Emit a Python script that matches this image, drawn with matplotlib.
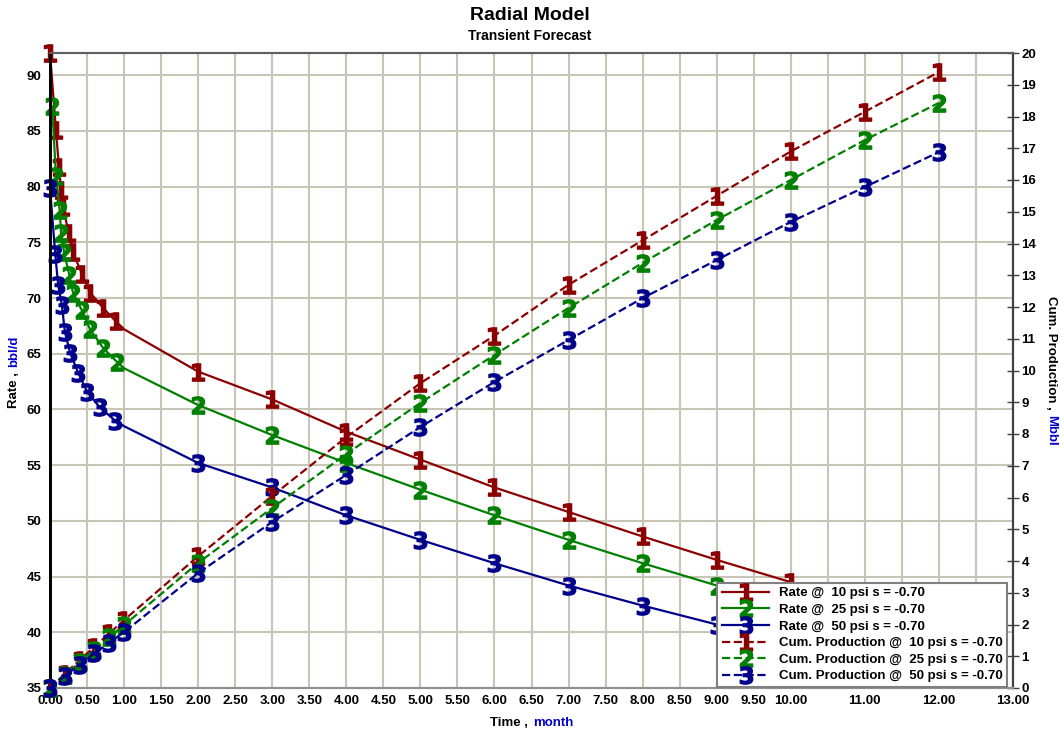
import matplotlib
matplotlib.use('Agg')
import matplotlib.pyplot as plt
import numpy as np

plt.rcParams['font.family'] = ['Liberation Sans', 'DejaVu Sans']
plt.rcParams['font.weight'] = 'bold'

# rate curves (bbl/d) vs time (month)
t_rate_10 = [0.0, 0.08, 0.12, 0.15, 0.18, 0.25, 0.31, 0.43, 0.54, 0.72, 0.89, 1.0,
             2, 3, 4, 5, 6, 7, 8, 9, 10, 11, 12]
rate_10 = [92.0, 85.1, 81.8, 79.7, 78.2, 75.8, 74.1, 72.2, 70.5, 69.1, 67.9, 67.2,
           63.4, 60.9, 58.0, 55.5, 53.0, 50.8, 48.6, 46.5, 44.5, 42.6, 40.8]
t_rate_25 = [0.03, 0.08, 0.13, 0.15, 0.19, 0.26, 0.31, 0.43, 0.54, 0.72, 0.90, 1.0,
             2, 3, 4, 5, 6, 7, 8, 9, 10, 11, 12]
rate_25 = [87.2, 81.0, 77.9, 75.8, 74.1, 72.1, 70.5, 68.9, 67.2, 65.5, 64.3, 63.7,
           60.4, 57.7, 55.2, 52.8, 50.5, 48.3, 46.2, 44.2, 42.3, 40.5, 38.8]
t_rate_50 = [0.0, 0.07, 0.11, 0.16, 0.20, 0.27, 0.38, 0.50, 0.67, 0.88, 1.0,
             2, 3, 4, 5, 6, 7, 8, 9, 10, 11, 12]
rate_50 = [79.9, 74.0, 71.2, 69.4, 67.0, 65.1, 63.3, 61.6, 60.2, 59.0, 58.5,
           55.2, 53.0, 50.5, 48.3, 46.2, 44.2, 42.4, 40.7, 39.1, 37.5, 36.0]

# cumulative production (Mbbl)
t_cum = [0, 0.2, 0.4, 0.6, 0.8, 1.0, 2, 3, 4, 5, 6, 7, 8, 9, 10, 11, 12]
cum_10 = [0, 0.45, 0.88, 1.30, 1.72, 2.14, 4.15, 6.05, 7.90, 9.60, 11.10, 12.70,
          14.10, 15.50, 16.90, 18.15, 19.40]
cum_25 = [0, 0.42, 0.82, 1.21, 1.60, 1.98, 3.94, 5.67, 7.37, 8.98, 10.49, 11.97,
          13.39, 14.74, 16.00, 17.26, 18.43]
cum_50 = [0, 0.38, 0.74, 1.09, 1.43, 1.76, 3.62, 5.23, 6.71, 8.22, 9.64, 10.96,
          12.28, 13.48, 14.68, 15.78, 16.88]

pressures = ['10', '25', '50']
colors = ['#8b0000', '#008000', '#00008b']
digits = ['1', '2', '3']
label_blue = '#0000cc'
fs = 9.5

fig = plt.figure(figsize=(10.6, 7.33), dpi=100)
ax1 = fig.add_axes([50 / 1060, 45 / 733, 963 / 1060, 635 / 733])
ax2 = ax1.twinx()

rates = [(t_rate_10, rate_10), (t_rate_25, rate_25), (t_rate_50, rate_50)]
cums = [cum_10, cum_25, cum_50]

handles = []
labels = []
for i in range(3):
    t, r = rates[i]
    mk = [j for j in range(len(t)) if t[j] != 1.0]
    h, = ax1.plot(t, r, color=colors[i], lw=1.6, marker=r'$\mathbf{%s}$' % digits[i],
                  markersize=12.5, mew=0.9, markevery=mk, clip_on=False, zorder=3)
    handles.append(h)
    labels.append(f'Rate @  {pressures[i]} psi s = -0.70')
for i in range(3):
    h, = ax2.plot(t_cum, cums[i], color=colors[i], lw=1.6, ls='--',
                  marker=r'$\mathbf{%s}$' % digits[i], markersize=12.5, mew=0.9,
                  clip_on=False, zorder=3)
    handles.append(h)
    labels.append(f'Cum. Production @  {pressures[i]} psi s = -0.70')

# axes limits and ticks
ax1.set_xlim(0, 13)
ax1.set_ylim(35, 92)
ax2.set_ylim(0, 20)
xt = np.arange(0, 13.01, 0.5)
ax1.set_xticks(xt)
ax1.set_xticklabels([f'{v:.2f}' if (v <= 10 or v % 1 == 0) else '' for v in xt])
ax1.set_yticks(np.arange(35, 91, 5))
ax2.set_yticks(np.arange(0, 21, 1))

ax1.grid(True, color='#c8c4b6', lw=1.5)
ax1.set_axisbelow(True)
ax1.tick_params(axis='both', length=0, labelsize=fs)
ax1.tick_params(axis='y', pad=6)
ax1.tick_params(axis='x', pad=5)
ax2.tick_params(axis='y', direction='inout', length=8, width=1, color='#404040',
                labelsize=fs, pad=2)

for ax in (ax1, ax2):
    ax.spines['left'].set_color('black')
    ax.spines['left'].set_linewidth(2)
    ax.spines['top'].set_color('#606060')
    ax.spines['top'].set_linewidth(1.5)
    ax.spines['right'].set_color('#404040')
    ax.spines['right'].set_linewidth(1.5)
    ax.spines['bottom'].set_color('#909090')
    ax.spines['bottom'].set_linewidth(1.5)

# titles
fig.text(0.5, 1 - 15 / 733, 'Radial Model', ha='center', va='center', size=14)
fig.text(0.5, 1 - 36 / 733, 'Transient Forecast', ha='center', va='center', size=10)

# axis labels with blue units
tx = fig.text(528 / 1060, 1 - 723 / 733, 'Time ,', ha='right', va='center', size=fs)
ax1.annotate('month', xy=(1, 0.5), xycoords=tx, xytext=(4, 0), textcoords='offset points',
             ha='left', va='center', size=fs, color=label_blue)
ty = fig.text(14 / 1060, 1 - 408 / 733, 'Rate ,', rotation=90, ha='center', va='bottom',
              size=fs)
ax1.annotate('bbl/d', xy=(0.5, 1), xycoords=ty, xytext=(0, 4), textcoords='offset points',
             rotation=90, ha='center', va='bottom', size=fs, color=label_blue)
tr = fig.text(1051 / 1060, 1 - 296 / 733, 'Cum. Production ,', rotation=-90, ha='center',
              va='top', size=fs)
ax2.annotate('Mbbl', xy=(0.5, 0), xycoords=tr, xytext=(0, -4), textcoords='offset points',
             rotation=-90, ha='center', va='top', size=fs, color=label_blue)

leg = ax2.legend(handles, labels, loc='lower right', bbox_to_anchor=(1007 / 1060, 46 / 733),
                 bbox_transform=fig.transFigure, borderaxespad=0, fancybox=False,
                 framealpha=1, edgecolor='#808080', fontsize=fs, handlelength=3.6,
                 handletextpad=0.7, labelspacing=0.33, borderpad=0.35, numpoints=1)
leg.get_frame().set_linewidth(1.5)
leg.set_zorder(10)

fig.savefig('out.png', dpi=100)
